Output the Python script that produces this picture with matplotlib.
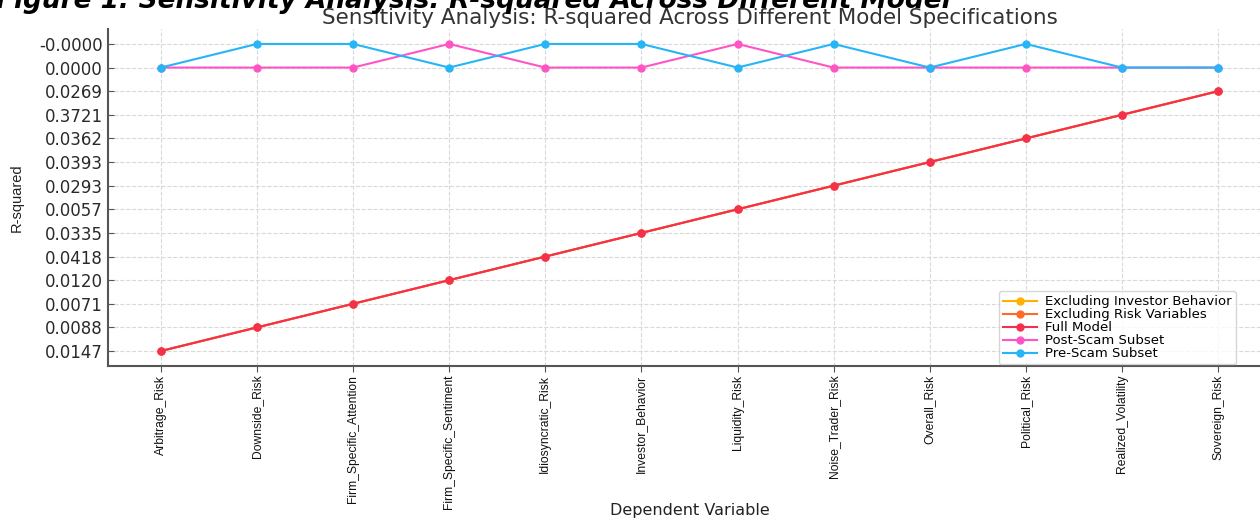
import matplotlib
matplotlib.use("Agg")
import matplotlib.pyplot as plt

# dependent variables (x categories)
variables = ["Arbitrage_Risk", "Downside_Risk", "Firm_Specific_Attention",
             "Firm_Specific_Sentiment", "Idiosyncratic_Risk", "Investor_Behavior",
             "Liquidity_Risk", "Noise_Trader_Risk", "Overall_Risk", "Political_Risk",
             "Realized_Volatility", "Sovereign_Risk"]

# R-squared values were stored as strings, so the y axis is categorical
full_model = ["0.0147", "0.0088", "0.0071", "0.0120", "0.0418", "0.0335",
              "0.0057", "0.0293", "0.0393", "0.0362", "0.3721", "0.0269"]
excl_investor = list(full_model)
excl_risk = list(full_model)
post_scam = ["0.0000", "0.0000", "0.0000", "-0.0000", "0.0000", "0.0000",
             "-0.0000", "0.0000", "0.0000", "0.0000", "0.0000", "0.0000"]
pre_scam = ["0.0000", "-0.0000", "-0.0000", "0.0000", "-0.0000", "-0.0000",
            "0.0000", "-0.0000", "0.0000", "-0.0000", "0.0000", "0.0000"]

series = [
    ("Excluding Investor Behavior", excl_investor, "#ffb000"),
    ("Excluding Risk Variables", excl_risk, "#ff6a2a"),
    ("Full Model", full_model, "#f5304f"),
    ("Post-Scam Subset", post_scam, "#ff55c4"),
    ("Pre-Scam Subset", pre_scam, "#26b5f7"),
]

narrow = ["Liberation Sans", "DejaVu Sans"]

fig = plt.figure(figsize=(12.6, 5.18), dpi=100)
ax = fig.add_axes([0.0857, 0.2927, 0.923, 0.6521])

for name, vals, col in series:
    ax.plot(variables, vals, marker="o", markersize=5, linewidth=1.5,
            color=col, label=name)

ax.set_title("Sensitivity Analysis: R-squared Across Different Model Specifications",
             fontsize=15.5, color="#333333", pad=3)
ax.set_xlabel("Dependent Variable", fontsize=11.5, color="#222222")
ax.xaxis.set_label_coords(0.5, -0.405)
ax.set_ylabel("R-squared", fontsize=10.5, color="#222222", family=narrow, labelpad=11)

ax.grid(True, linestyle="--", color="#d9d9d9", linewidth=0.8)
ax.set_axisbelow(True)
for s in ["top", "right"]:
    ax.spines[s].set_visible(False)
for s in ["left", "bottom"]:
    ax.spines[s].set_color("#555555")
    ax.spines[s].set_linewidth(1.5)

ax.tick_params(axis="y", direction="in", length=4, color="#555555",
               labelsize=12, labelcolor="#2a2a2a")
ax.tick_params(axis="x", direction="out", length=4, pad=2, color="#555555",
               labelcolor="#111111")
for lbl in ax.get_xticklabels():
    lbl.set_rotation(90)
    lbl.set_fontsize(8.7)
    lbl.set_family(narrow)

ax.legend(loc="lower left", bbox_to_anchor=(0.766, 0.006), borderaxespad=0,
          fontsize=9.5, frameon=True, edgecolor="#cccccc", fancybox=True,
          handlelength=2.6, handletextpad=0.6, labelspacing=0.0, borderpad=0.3)

fig.text(-0.003, 1.0 - 8 / 518, "Figure 1: Sensitivity Analysis: R-squared Across Different Model",
         fontsize=19, fontweight="bold", style="italic", va="baseline", ha="left")

fig.savefig("out.png", dpi=100)
